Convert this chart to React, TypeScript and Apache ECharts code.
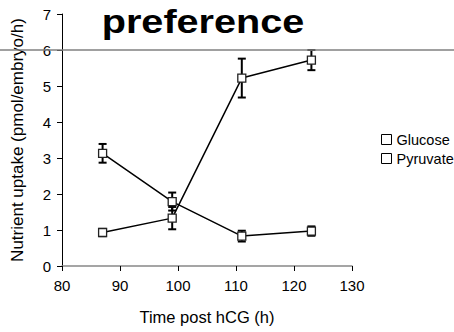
import React, { useEffect, useRef } from "react";
import * as echarts from "echarts";

const timePoints = [87, 99, 111, 123];
const glucose = [0.93, 1.33, 5.22, 5.72];
const glucoseErr = [0.1, 0.31, 0.54, 0.28];
const pyruvate = [3.13, 1.79, 0.83, 0.97];
const pyruvateErr = [0.26, 0.25, 0.15, 0.13];
const seriesNames = ["Glucose", "Pyruvate"];
const titleText = "preference";
const xName = "Time post hCG (h)";
const yName = "Nutrient uptake (pmol/embryo/h)";
const refLineValue = 6;

const FONT = "'Liberation Sans', Arial, sans-serif";

function errData(vals: number[], errs: number[]) {
  return timePoints.map((t, i) => [t, vals[i], errs[i]]);
}

function renderErr(params: any, api: any) {
  const x = api.value(0);
  const y = api.value(1);
  const e = api.value(2);
  const top = api.coord([x, y + e]);
  const bot = api.coord([x, y - e]);
  const cap = 4;
  const style = { stroke: "#000", lineWidth: 2 };
  return {
    type: "group",
    children: [
      { type: "line", shape: { x1: top[0], y1: top[1], x2: bot[0], y2: bot[1] }, style },
      { type: "line", shape: { x1: top[0] - cap, y1: top[1], x2: top[0] + cap, y2: top[1] }, style },
      { type: "line", shape: { x1: bot[0] - cap, y1: bot[1], x2: bot[0] + cap, y2: bot[1] }, style },
    ],
  };
}

export default function App() {
  const ref = useRef<HTMLDivElement>(null);
  useEffect(() => {
    if (!ref.current) return;
    const chart = echarts.init(ref.current, null, { renderer: "svg" });
    const lineSeries = (name: string, vals: number[]) => ({
      name,
      type: "line",
      data: timePoints.map((t, i) => [t, vals[i]]),
      symbol: "rect",
      symbolSize: 8,
      z: 5,
      lineStyle: { color: "#000", width: 1.5 },
      itemStyle: { color: "#fff", borderColor: "#222", borderWidth: 1.3 },
    });
    chart.setOption({
      animation: false,
      grid: { left: 62, right: 102, top: 14, bottom: 66 },
      legend: {
        data: seriesNames,
        orient: "vertical",
        left: 376,
        top: 127,
        icon: "rect",
        itemWidth: 10,
        itemHeight: 10,
        itemGap: 4,
        textStyle: { fontFamily: FONT, fontSize: 14.5, color: "#000" },
        itemStyle: { color: "#fff", borderColor: "#000", borderWidth: 1 },
      },
      xAxis: {
        type: "value",
        min: 80,
        max: 130,
        interval: 10,
        name: xName,
        nameLocation: "middle",
        nameGap: 42,
        nameTextStyle: { fontFamily: FONT, fontSize: 16.5, color: "#000" },
        axisLine: { lineStyle: { color: "#888", width: 1.5 } },
        axisTick: { length: 5, lineStyle: { color: "#000", width: 1 } },
        axisLabel: { fontFamily: FONT, fontSize: 15, color: "#000", margin: 12 },
        splitLine: { show: false },
      },
      yAxis: {
        type: "value",
        min: 0,
        max: 7,
        interval: 1,
        name: yName,
        nameLocation: "middle",
        nameGap: 36,
        nameRotate: 90,
        nameTextStyle: { fontFamily: FONT, fontSize: 17, color: "#000" },
        axisLine: { show: true, lineStyle: { color: "#000", width: 1 } },
        axisTick: { show: true, length: 5, lineStyle: { color: "#000", width: 1 } },
        axisLabel: { fontFamily: FONT, fontSize: 15, color: "#000", margin: 11 },
        splitLine: { show: false },
      },
      series: [
        {
          type: "custom",
          renderItem: renderErr,
          data: errData(glucose, glucoseErr),
          z: 3,
          silent: true,
        },
        {
          type: "custom",
          renderItem: renderErr,
          data: errData(pyruvate, pyruvateErr),
          z: 3,
          silent: true,
        },
        lineSeries(seriesNames[0], glucose),
        lineSeries(seriesNames[1], pyruvate),
      ],
    });
    const yPix = chart.convertToPixel({ gridIndex: 0 }, [80, refLineValue])[1];
    const xMid = (chart.convertToPixel({ gridIndex: 0 }, [80, 0])[0] + chart.convertToPixel({ gridIndex: 0 }, [130, 0])[0]) / 2;
    chart.setOption({
      graphic: [
        {
          type: "text",
          x: xMid - 4,
          y: 22,
          scaleX: 1.2,
          z: 10,
          style: {
            text: titleText,
            fontFamily: FONT,
            fontSize: 33,
            fontWeight: "bold",
            fill: "#000",
            align: "center",
            verticalAlign: "middle",
          },
        },
        {
          type: "line",
          z: 20,
          shape: { x1: 0, y1: yPix, x2: 454, y2: yPix },
          style: { stroke: "#808080", lineWidth: 1.5 },
        },
      ],
    });
    return () => chart.dispose();
  }, []);
  return <div ref={ref} style={{ width: 454, height: 332, position: "absolute", left: 0, top: 0 }} />;
}
